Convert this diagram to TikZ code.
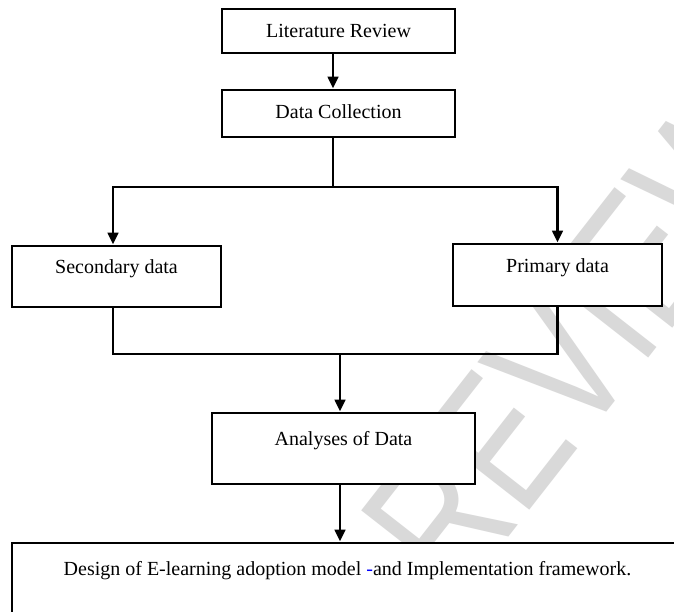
\documentclass[tikz,border=0pt]{standalone}
\usepackage{fontspec}
\setmainfont{Liberation Serif}
\newfontfamily\wmfont{Liberation Sans}
\usetikzlibrary{arrows.meta}
\begin{document}
\begin{tikzpicture}[x=1pt,y=-1pt,
  box/.style={draw=black, line width=2.9pt, fill=white, inner sep=0pt},
  txt/.style={font=\fontsize{20}{24}\selectfont, inner sep=0pt},
  conn/.style={line width=2.9pt},
  arr/.style={conn, -{Triangle[length=12pt,width=10.5pt]}},
  wm/.style={text=black!15, font=\wmfont\fontsize{192}{192}\selectfont, inner sep=0pt}]
\clip (0,0) rectangle (674,612);
\fill[white] (0,0) rectangle (674,612);
% watermark
\node[wm, rotate=52, xscale=0.75, anchor=base west] (wm) at (458,602) {REVIEW};
% boxes
\node[box, minimum width=233pt, minimum height=44pt] (lit) at (338.5,31) {};
\node[txt] (litT) at (338.5,31) {Literature Review};
\node[box, minimum width=233pt, minimum height=47pt] (dc) at (338.5,113.5) {};
\node[txt] (dcT) at (338.5,112) {Data Collection};
\node[box, minimum width=209pt, minimum height=61pt] (sec) at (116.5,276.5) {};
\node[txt] (secT) at (116.5,269) {Secondary data};
\node[box, minimum width=209pt, minimum height=62pt] (pri) at (557.5,275) {};
\node[txt] (priT) at (557.5,268) {Primary data};
\node[box, minimum width=263pt, minimum height=71pt] (ana) at (343.5,448.5) {};
\node[txt] (anaT) at (343.5,441) {Analyses of Data};
\node[box, minimum width=671pt, minimum height=100pt] (des) at (347.5,593) {};
\node[txt] (desT) at (347.5,571) {Design of E-learning adoption model {\color{blue}-}and Implementation framework.};
% connectors
\coordinate (split) at (333,187);
\coordinate (join) at (340,354);
\coordinate (litS) at ([xshift=-5.5pt]lit.south);
\coordinate (dcN) at ([xshift=-5.5pt]dc.north);
\coordinate (secN) at ([xshift=-3.5pt]sec.north);
\coordinate (secS) at ([xshift=-3.5pt]sec.south);
\draw[arr] (litS) -- (dcN);
\draw[conn] (dc.south -| split) -- (split);
\draw[arr] (split) -| (secN);
\draw[arr] (split) -| (pri.north);
\draw[conn] (secS) -- (secS |- join) -- (pri.south |- join) -- (pri.south);
\draw[arr] (join) -- (join |- ana.north);
\draw[arr] (ana.south -| join) -- (des.north -| join);
\end{tikzpicture}
\end{document}
